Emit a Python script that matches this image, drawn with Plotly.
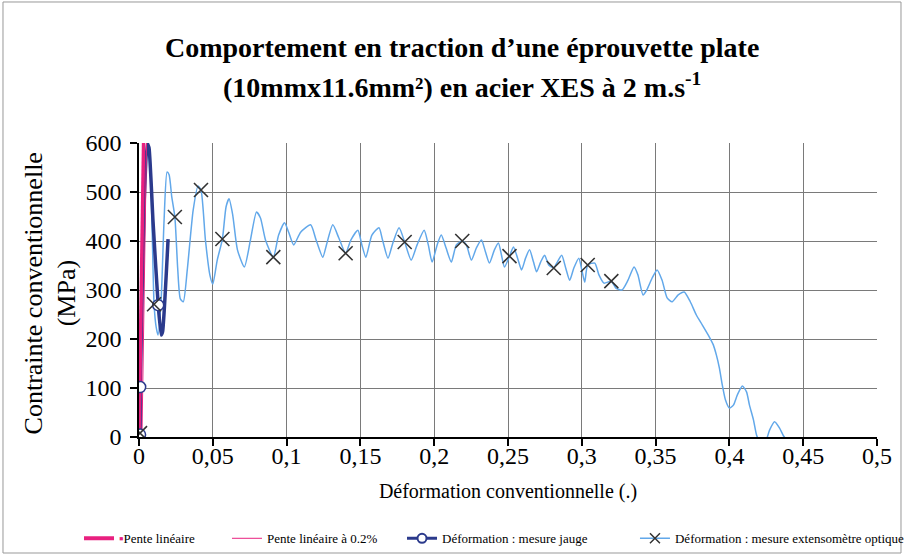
import plotly.graph_objects as go

# Tick labels (French decimal comma)
x_tickvals = [0, 0.05, 0.1, 0.15, 0.2, 0.25, 0.3, 0.35, 0.4, 0.45, 0.5]
x_ticktext = ["0", "0,05", "0,1", "0,15", "0,2", "0,25", "0,3", "0,35", "0,4", "0,45", "0,5"]
y_tickvals = [0, 100, 200, 300, 400, 500, 600]
y_ticktext = ["0", "100", "200", "300", "400", "500", "600"]

# Linear elastic slope and its 0.2 % offset
pente_x = [0.0, 0.0033]
pente_y = [0, 640]
pente02_x = [0.002, 0.0053]
pente02_y = [0, 640]

# Strain gauge measurement
jauge_x = [0.0, 0.0007, 0.0008, 0.0035, 0.0055, 0.0068, 0.0095, 0.0130, 0.0150, 0.0160, 0.0197]
jauge_y = [0, 5, 102, 480, 600, 590, 440, 269, 208, 215, 404]
jauge_mx = [0.0007, 0.0008, 0.0130]
jauge_my = [5, 102, 269]

# Optical extensometer measurement
ext_x = [0.0, 0.0007, 0.0014, 0.0034, 0.0048, 0.0061, 0.0075, 0.0090, 0.0102, 0.0116,
         0.0129, 0.0150, 0.0170, 0.0190, 0.0204, 0.0222, 0.0243, 0.0262, 0.0280, 0.0300,
         0.0327, 0.0367, 0.0400, 0.0420, 0.0450, 0.0480, 0.0500, 0.0530, 0.0565, 0.0590,
         0.0610, 0.0635, 0.0667, 0.0714, 0.0755, 0.0796, 0.0823, 0.0857, 0.0910, 0.0946,
         0.0986, 0.1014, 0.1048, 0.1095, 0.1163, 0.1200, 0.1245, 0.1270, 0.1313, 0.1354,
         0.1400, 0.1435, 0.1483, 0.1510, 0.1537, 0.1578, 0.1626, 0.1650, 0.1687, 0.1720,
         0.1762, 0.1800, 0.1844, 0.1884, 0.1932, 0.1960, 0.1986, 0.2020, 0.2048, 0.2080,
         0.2116, 0.2150, 0.2190, 0.2218, 0.2252, 0.2286, 0.2320, 0.2347, 0.2374, 0.2408,
         0.2435, 0.2456, 0.2476, 0.2510, 0.2537, 0.2565, 0.2592, 0.2619, 0.2646, 0.2673,
         0.2694, 0.2721, 0.2748, 0.2776, 0.2810, 0.2830, 0.2864, 0.2891, 0.2918, 0.2946,
         0.2980, 0.3000, 0.3020, 0.3040, 0.3088, 0.3116, 0.3150, 0.3200, 0.3231, 0.3272,
         0.3313, 0.3354, 0.3380, 0.3415, 0.3440, 0.3476, 0.3510, 0.3544, 0.3578, 0.3612,
         0.3653, 0.3694, 0.3735, 0.3776, 0.3816, 0.3857, 0.3891, 0.3912, 0.3932, 0.3952,
         0.3973, 0.4000, 0.4027, 0.4054, 0.4088, 0.4116, 0.4136, 0.4163, 0.4184, 0.4204,
         0.4245, 0.4272, 0.4306, 0.4340, 0.4367, 0.4394]
ext_y = [0, 8, 116, 382, 565, 600, 565, 410, 271, 225,
         208, 280, 443, 541, 535, 490, 449, 345, 282, 276,
         341, 463, 512, 504, 402, 331, 312, 361, 404, 470,
         486, 453, 382, 347, 402, 459, 447, 402, 367, 412,
         437, 418, 392, 418, 433, 402, 367, 392, 433, 406,
         375, 402, 422, 392, 367, 412, 427, 402, 365, 396,
         427, 398, 361, 392, 422, 392, 357, 392, 412, 386,
         357, 392, 400, 392, 361, 386, 402, 378, 355, 382,
         396, 371, 347, 369, 388, 365, 341, 365, 382, 357,
         337, 357, 371, 351, 345, 355, 371, 345, 320, 345,
         365, 341, 316, 351, 355, 331, 314, 318, 304, 300,
         320, 347, 331, 290, 300, 324, 341, 320, 284, 276,
         290, 296, 276, 249, 229, 208, 188, 167, 141, 106,
         76, 59, 65, 86, 104, 92, 65, 35, 4, -8,
         -8, 14, 31, 18, 2, -8]
ext_mx = [0.0007, 0.0102, 0.0243, 0.0420, 0.0565, 0.0910, 0.1400, 0.1800, 0.2190,
          0.2510, 0.2810, 0.3040, 0.3200]
ext_my = [8, 271, 449, 504, 404, 367, 375, 398, 400, 369, 345, 351, 318]

PINK = "#E8207F"
NAVY = "#2B3A8C"
LIGHT_BLUE = "#62A8EA"
MARK = "#333333"
SERIF = "Liberation Serif, Times New Roman, serif"

fig = go.Figure()

# Legend entries, one small legend per series laid out along the bottom edge
fig.add_trace(go.Scatter(x=[None], y=[None], mode="lines", legend="legend",
                         name="<span style='color:%s'>▪</span>Pente linéaire" % PINK,
                         line=dict(color=PINK, width=4)))
fig.add_trace(go.Scatter(x=[None], y=[None], mode="lines", legend="legend2",
                         name="Pente linéaire à 0.2%",
                         line=dict(color=PINK, width=1)))
fig.add_trace(go.Scatter(x=[None], y=[None], mode="lines+markers", legend="legend3",
                         name="Déformation : mesure jauge",
                         line=dict(color=NAVY, width=3),
                         marker=dict(symbol="circle", size=9, color="white",
                                     line=dict(color=NAVY, width=2))))
fig.add_trace(go.Scatter(x=[None], y=[None], mode="lines+markers", legend="legend4",
                         name="Déformation : mesure extensomètre optique",
                         line=dict(color=LIGHT_BLUE, width=1.5),
                         marker=dict(symbol="x-thin", size=10, color=MARK,
                                     line=dict(color=MARK, width=1.5))))

# Curves
fig.add_trace(go.Scatter(x=ext_x, y=ext_y, mode="lines", showlegend=False,
                         line=dict(color=LIGHT_BLUE, width=1.5, shape="spline", smoothing=0.6),
                         hoverinfo="skip"))
fig.add_trace(go.Scatter(x=jauge_x, y=jauge_y, mode="lines", showlegend=False,
                         line=dict(color=NAVY, width=3.5, shape="spline", smoothing=0.4),
                         hoverinfo="skip"))
fig.add_trace(go.Scatter(x=pente02_x, y=pente02_y, mode="lines", showlegend=False,
                         line=dict(color=PINK, width=1)))
fig.add_trace(go.Scatter(x=pente_x, y=pente_y, mode="lines", showlegend=False,
                         line=dict(color=PINK, width=3.5)))

# Markers
fig.add_trace(go.Scatter(x=jauge_mx, y=jauge_my, mode="markers", showlegend=False,
                         marker=dict(symbol="circle", size=11, color="white",
                                     line=dict(color=NAVY, width=1.5))))
fig.add_trace(go.Scatter(x=ext_mx, y=ext_my, mode="markers", showlegend=False,
                         marker=dict(symbol="x-thin", size=14, color=MARK,
                                     line=dict(color=MARK, width=1.6))))


def legend_at(xpos):
    return dict(orientation="h", xref="container", yref="container",
                x=xpos, xanchor="left", y=0.003, yanchor="bottom",
                font=dict(size=13, family=SERIF), itemwidth=30,
                bgcolor="rgba(0,0,0,0)")


fig.update_layout(
    width=904, height=555,
    margin=dict(l=139, r=27, t=143, b=118),
    paper_bgcolor="white", plot_bgcolor="white",
    font=dict(family=SERIF, color="black"),
    legend=legend_at(0.0874),
    legend2=legend_at(0.2511),
    legend3=legend_at(0.4447),
    legend4=legend_at(0.7024),
    annotations=[
        dict(text="<b>Comportement en traction d’une éprouvette plate</b>",
             xref="paper", yref="paper", x=0.4377, y=1.3265, showarrow=False,
             font=dict(size=28, family=SERIF), xanchor="center", yanchor="middle"),
        dict(text="<b>(10mmx11.6mm²) en acier XES à 2 m.s<sup>-1</sup></b>",
             xref="paper", yref="paper", x=0.4377, y=1.196, showarrow=False,
             font=dict(size=28, family=SERIF), xanchor="center", yanchor="middle"),
        dict(text="Contrainte conventionnelle", textangle=-90,
             xref="paper", yref="paper", x=-0.1430, y=0.49, showarrow=False,
             font=dict(size=26, family=SERIF), xanchor="center", yanchor="middle"),
        dict(text="(MPa)", textangle=-90,
             xref="paper", yref="paper", x=-0.0970, y=0.49, showarrow=False,
             font=dict(size=26, family=SERIF), xanchor="center", yanchor="middle"),
    ],
    shapes=[
        dict(type="rect", xref="paper", yref="paper",
             x0=-0.1843, x1=1.0325, y0=-0.3946, y1=1.4796,
             line=dict(color="#999999", width=1), fillcolor="rgba(0,0,0,0)", layer="below"),
    ],
)

fig.update_xaxes(
    range=[0, 0.5], tickvals=x_tickvals, ticktext=x_ticktext,
    showgrid=True, gridcolor="#7a7a7a", gridwidth=1,
    showline=True, linecolor="black", linewidth=1.5,
    ticks="outside", ticklen=7, tickwidth=1.5, tickcolor="black",
    ticklabelstandoff=-11,
    tickfont=dict(size=24, family=SERIF, color="black"),
    title=dict(text="Déformation conventionnelle (.)", font=dict(size=20, family=SERIF),
               standoff=16),
    zeroline=False,
)
fig.update_yaxes(
    range=[0, 600], tickvals=y_tickvals, ticktext=y_ticktext,
    showgrid=True, gridcolor="#7a7a7a", gridwidth=1,
    showline=True, linecolor="black", linewidth=1.5,
    ticks="outside", ticklen=7, tickwidth=1.5, tickcolor="black",
    ticklabelstandoff=4,
    tickfont=dict(size=24, family=SERIF, color="black"),
    zeroline=False,
)

fig.write_html("out.html")
